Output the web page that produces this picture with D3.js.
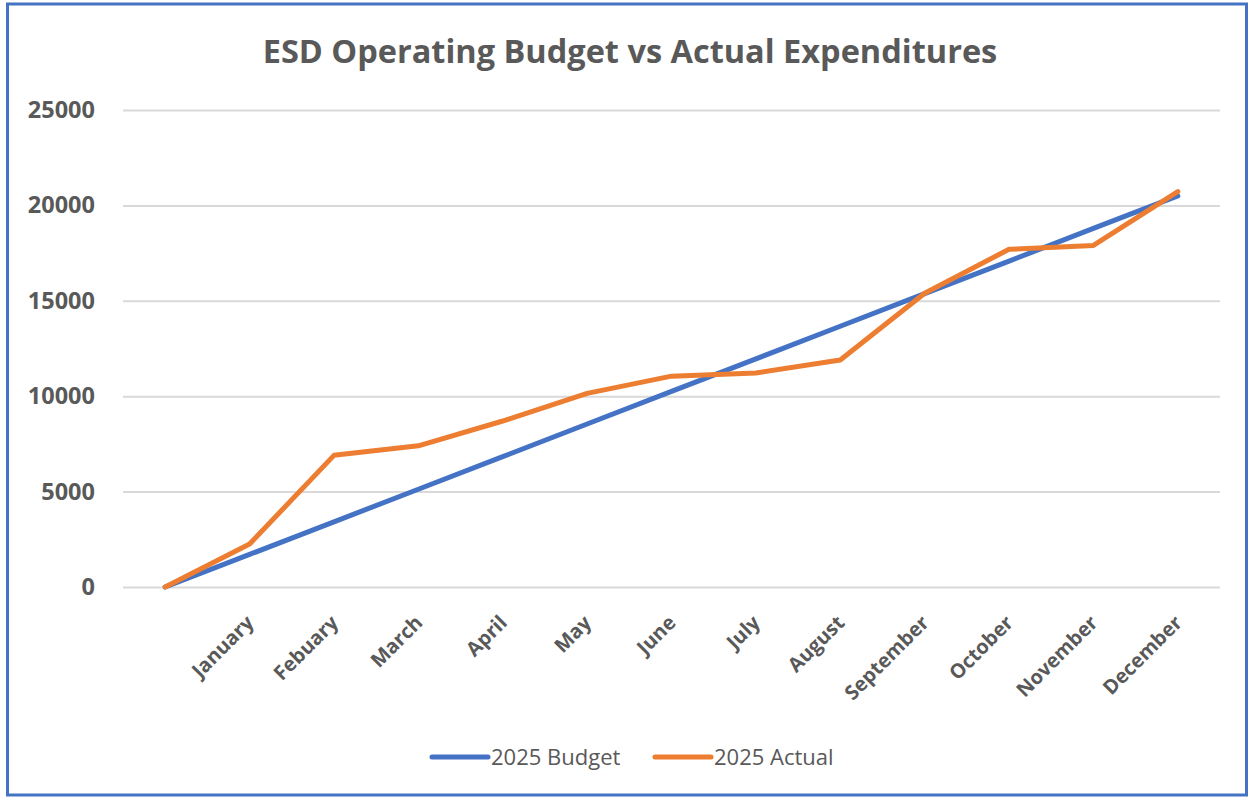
<!DOCTYPE html>
<html>
<head>
<meta charset="utf-8">
<script src="https://cdn.jsdelivr.net/npm/d3@7"></script>
<style>
  html, body { margin: 0; padding: 0; background: #fff; }
  svg { display: block; font-family: "Open Sans", sans-serif; }
  .grid line { stroke: #d9d9d9; stroke-width: 2; }
  .tick text { fill: #595959; font-weight: 700; }
</style>
</head>
<body>
<svg></svg>
<script>
document.addEventListener("DOMContentLoaded", function () {
  // Chart data
  const months = ["", "January", "Febuary", "March", "April", "May", "June",
    "July", "August", "September", "October", "November", "December"];
  const budget = [0, 1708, 3417, 5125, 6833, 8542, 10250, 11958, 13667, 15375, 17083, 18792, 20500];
  const actual = [0, 2250, 6900, 7400, 8700, 10150, 11050, 11220, 11900, 15400, 17700, 17900, 20720];
  const yTicks = [0, 5000, 10000, 15000, 20000, 25000];
  const seriesNames = ["2025 Budget", "2025 Actual"];
  const colors = ["#4472c4", "#ed7d31"];

  const w = 1249;
  const h = 797;
  const margin = { top: 110, right: 29, bottom: 210, left: 123 };

  const svg = d3.select("svg")
    .attr("width", w)
    .attr("height", h);

  // Outer frame
  svg.append("rect")
    .attr("x", 7.5)
    .attr("y", 4)
    .attr("width", 1239)
    .attr("height", 791)
    .attr("fill", "#fff")
    .attr("stroke", "#4472c4")
    .attr("stroke-width", 3);

  svg.append("text")
    .attr("x", 630)
    .attr("y", 63)
    .attr("text-anchor", "middle")
    .attr("fill", "#595959")
    .attr("font-size", 32.5)
    .attr("font-weight", 700)
    .text("ESD Operating Budget vs Actual Expenditures");

  const x = d3.scalePoint()
    .domain(months.map((d, i) => i))
    .range([margin.left, w - margin.right])
    .padding(0.5);

  const y = d3.scaleLinear()
    .domain([0, 25000])
    .range([h - margin.bottom, margin.top]);

  // Gridlines + y labels
  const yAxis = svg.append("g")
    .attr("class", "grid")
    .attr("transform", `translate(${margin.left},0)`)
    .call(d3.axisLeft(y)
      .tickValues(yTicks)
      .tickSize(-(w - margin.left - margin.right))
      .tickPadding(28)
      .tickFormat(d3.format("d")));
  yAxis.attr("font-family", null).attr("font-size", null);
  yAxis.select(".domain").remove();
  yAxis.selectAll(".tick text").attr("font-size", 23.5);

  // Month labels
  const xAxis = svg.append("g")
    .attr("transform", `translate(0,${h - margin.bottom})`)
    .call(d3.axisBottom(x).tickSize(0).tickFormat((i) => months[i]));
  xAxis.attr("font-family", null).attr("font-size", null);
  xAxis.select(".domain").remove();
  xAxis.selectAll(".tick text")
    .attr("font-size", 20)
    .attr("text-anchor", "end")
    .attr("y", 0)
    .attr("dy", 0)
    .attr("transform", "translate(5,37) rotate(-45)");

  const line = d3.line()
    .x((d, i) => x(i))
    .y((d) => y(d));

  svg.selectAll(".series")
    .data([budget, actual])
    .enter()
    .append("path")
    .attr("class", "series")
    .attr("d", line)
    .attr("fill", "none")
    .attr("stroke", (d, i) => colors[i])
    .attr("stroke-width", 5)
    .attr("stroke-linejoin", "round")
    .attr("stroke-linecap", "round");

  // Legend
  const legendX = [432, 655];
  const legend = svg.selectAll(".legend")
    .data(seriesNames)
    .enter()
    .append("g")
    .attr("class", "legend")
    .attr("transform", (d, i) => `translate(${legendX[i]},757)`);

  legend.append("line")
    .attr("x1", 0)
    .attr("x2", 56)
    .attr("stroke", (d, i) => colors[i])
    .attr("stroke-width", 5)
    .attr("stroke-linecap", "round");

  legend.append("text")
    .attr("x", 59)
    .attr("dy", "0.35em")
    .attr("fill", "#595959")
    .attr("font-size", 22)
    .text((d) => d);
});
</script>
</body>
</html>
